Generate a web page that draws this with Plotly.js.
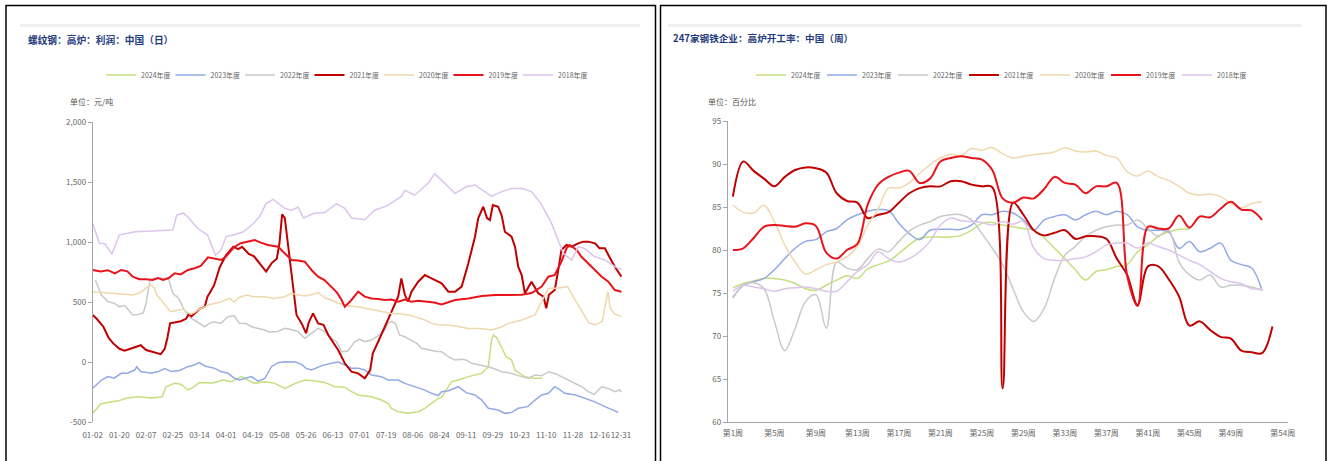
<!DOCTYPE html>
<html><head><meta charset="utf-8">
<script src="https://cdn.plot.ly/plotly-3.0.1.min.js"></script>
<style>html,body{margin:0;padding:0;background:#fff}#c{width:1332px;height:461px}</style>
</head><body><div id="c"></div><script>
// ---------- shared ----------
const seriesNames = ['2024年度','2023年度','2022年度','2021年度','2020年度','2019年度','2018年度'];
const seriesColors = ['#c5df7f','#93a9e6','#c9c9c9','#c00000','#efd8ad','#e8141b','#dcc4ec'];
const seriesWidths = [1.5,1.5,1.5,2,1.5,2,1.5];

// ---------- left chart: rebar BF profit (daily), x = position in tick intervals ----------
const tickPosL = [0,1,2,3,4,5,6,7,8,9,10,11,12,13,14,15,16,17,18,19,19.8];
const tickLabelsL = ['01-02','01-20','02-07','02-25','03-14','04-01','04-19','05-08','05-26','06-13','07-01','07-19','08-06','08-24','09-11','09-29','10-23','11-10','11-28','12-16','12-31'];
const yTickValsL = [-500,0,500,1000,1500,2000];
const yTickTextL = ['-500','0','500','1,000','1,500','2,000'];

const pos2024 = [0,0.3,0.6,1.0,1.3,1.7,2.2,2.6,2.75,3.07,3.3,3.57,3.8,4.0,4.5,4.88,5.2,5.57,6.07,6.45,6.83,7.2,7.6,7.95,8.3,8.7,9.07,9.45,9.7,9.95,10.45,10.82,11.07,11.2,11.45,11.82,12.2,12.45,12.7,12.95,13.08,13.45,13.7,14.08,14.58,14.83,14.95,15.02,15.15,15.3,15.5,15.7,15.83,16.0,16.2,16.5,16.85];
const val2024 = [-428,-350,-335,-320,-300,-289,-300,-290,-206,-178,-185,-233,-205,-170,-175,-150,-165,-122,-178,-164,-178,-220,-178,-150,-156,-170,-206,-210,-247,-275,-289,-317,-345,-386,-414,-428,-414,-386,-345,-303,-295,-164,-150,-122,-95,-39,183,225,200,128,44,17,-67,-95,-122,-136,-136];

const pos2023 = [0,0.14,0.33,0.57,0.8,1.07,1.3,1.57,1.65,1.8,2.2,2.45,2.7,2.95,3.25,3.57,3.8,4.0,4.2,4.57,4.8,5.07,5.32,5.5,5.7,5.95,6.2,6.45,6.7,6.95,7.2,7.6,7.83,8.0,8.2,8.4,8.6,8.95,9.2,9.45,9.7,9.95,10.2,10.45,10.82,11.07,11.45,11.7,12.07,12.45,12.7,12.95,13.08,13.33,13.7,14.0,14.33,14.58,14.83,15.2,15.45,15.7,15.95,16.3,16.58,16.83,17.08,17.32,17.5,17.7,18.1,18.45,18.8,19.2,19.5,19.7];
const val2023 = [-219,-192,-150,-122,-135,-94,-94,-67,-40,-80,-94,-80,-55,-80,-70,-39,-25,-5,-33,-53,-80,-94,-136,-150,-136,-122,-160,-136,-39,-6,2,0,-20,-53,-67,-50,-30,-11,0,-25,-53,-53,-67,-108,-122,-150,-150,-178,-206,-234,-261,-280,-248,-240,-206,-255,-275,-317,-386,-400,-428,-420,-386,-372,-317,-275,-261,-206,-230,-261,-275,-303,-330,-372,-400,-420];

const pos2022 = [0.1,0.2,0.33,0.57,0.8,1.0,1.2,1.4,1.5,1.7,1.9,2.0,2.1,2.15,2.3,2.7,2.85,3.0,3.15,3.25,3.4,3.6,3.8,4.0,4.2,4.35,4.55,4.8,5.07,5.3,5.5,5.75,5.95,6.2,6.45,6.6,6.95,7.2,7.45,7.7,7.95,8.2,8.45,8.7,8.95,9.14,9.33,9.55,9.82,10.0,10.2,10.45,10.7,10.9,11.07,11.2,11.35,11.5,11.7,11.95,12.15,12.32,12.57,12.85,13.08,13.33,13.58,13.85,14.0,14.2,14.5,14.83,15.1,15.33,15.6,15.85,16.08,16.33,16.58,16.83,17.08,17.32,17.58,17.83,18.08,18.33,18.58,18.8,18.95,19.08,19.33,19.57,19.75,19.82];
const val2022 = [683,628,558,503,490,461,470,419,392,395,410,489,600,683,697,697,690,572,545,520,447,380,350,322,294,320,336,322,378,385,322,320,294,280,267,250,255,280,270,253,197,239,280,253,197,169,86,90,169,190,170,183,220,250,322,336,320,225,210,183,155,114,100,90,86,44,17,22,17,-11,-25,-39,-60,-81,-90,-110,-122,-136,-108,-115,-81,-95,-122,-150,-178,-206,-248,-270,-233,-206,-220,-248,-233,-250];

const pos2021 = [0,0.15,0.4,0.6,0.77,1.0,1.2,1.4,1.6,1.8,2.0,2.2,2.4,2.55,2.7,2.8,2.9,3.1,3.3,3.5,3.6,3.7,3.82,4.0,4.2,4.3,4.38,4.55,4.77,5.0,5.27,5.45,5.6,5.85,6.05,6.27,6.5,6.7,6.9,7.0,7.1,7.2,7.35,7.5,7.64,7.83,8.0,8.1,8.26,8.45,8.65,8.83,9.0,9.2,9.45,9.7,9.95,10.2,10.4,10.5,10.7,10.95,11.2,11.45,11.57,11.7,11.82,11.95,12.2,12.45,12.7,12.95,13.08,13.33,13.58,13.83,14.08,14.33,14.45,14.64,14.78,14.89,15.0,15.2,15.33,15.45,15.7,15.83,15.95,16.08,16.2,16.45,16.7,16.9,17.0,17.1,17.32,17.45,17.57,17.76,17.95,18.2,18.38,18.58,18.83,19.0,19.2,19.33,19.57,19.82];
const val2021 = [392,360,294,200,155,110,95,110,130,140,100,85,70,65,110,200,322,330,340,360,400,380,406,440,460,544,572,640,794,892,961,940,960,900,880,822,753,822,860,989,1230,1200,933,628,392,322,239,330,405,322,310,225,169,100,-11,-81,-95,-136,-67,72,169,294,433,544,697,560,503,586,669,725,697,669,655,586,586,628,822,1044,1197,1294,1200,1183,1308,1294,1220,1086,1044,961,794,725,572,669,572,544,447,560,600,766,933,975,961,989,1003,1003,989,947,947,891,794,711];

const pos2020 = [0,0.5,1.0,1.52,1.8,2.15,2.3,2.4,2.77,2.9,3.15,3.4,3.64,3.8,4.0,4.2,4.4,4.8,5.14,5.3,5.5,5.8,6.0,6.45,6.8,7.2,7.45,7.7,7.95,8.2,8.45,8.7,8.95,9.2,9.45,9.7,9.95,10.2,10.57,10.95,11.2,11.6,11.9,12.07,12.45,12.7,12.95,13.2,13.6,14.08,14.5,14.95,15.3,15.58,16.08,16.58,16.9,17.08,17.4,17.8,18.08,18.6,18.85,19.1,19.31,19.4,19.55,19.82];
const val2020 = [586,575,570,558,580,642,620,560,461,419,430,440,400,410,440,460,480,500,530,500,540,558,544,544,530,544,572,558,550,560,578,535,517,490,475,465,461,450,433,420,405,400,390,378,350,322,310,308,300,280,280,267,290,322,350,392,533,614,615,628,517,325,310,340,586,450,400,378];

const pos2019 = [0,0.3,0.57,0.83,1.07,1.3,1.5,1.75,2.0,2.25,2.45,2.64,2.85,3.07,3.3,3.57,3.82,4.05,4.32,4.55,4.82,5.0,5.32,5.55,5.82,6.07,6.3,6.57,6.95,7.2,7.45,7.7,7.95,8.2,8.45,8.7,8.95,9.15,9.33,9.45,9.7,9.95,10.2,10.45,10.7,10.95,11.2,11.45,11.7,11.95,12.2,12.45,12.8,13.08,13.58,14.08,14.58,15.08,15.58,16.08,16.45,16.83,17.08,17.32,17.57,17.76,17.88,18.14,18.32,18.58,18.83,19.08,19.33,19.57,19.82];
const val2019 = [767,755,765,739,767,755,711,690,689,683,700,683,700,739,730,767,781,800,872,860,850,880,961,990,1003,1017,995,975,961,905,850,845,836,767,711,680,628,580,517,461,517,586,545,530,525,517,520,503,520,503,510,503,495,480,517,530,550,558,558,560,575,628,711,725,836,947,975,933,877,822,767,711,669,600,586];

const pos2018 = [0,0.25,0.45,0.72,1.0,1.3,1.6,2.0,2.5,3.0,3.15,3.4,3.6,3.95,4.3,4.6,4.8,5.0,5.3,5.65,6.0,6.25,6.5,6.76,7.2,7.45,7.7,7.9,8.3,8.7,9.14,9.45,9.7,10.2,10.57,11.07,11.57,11.7,12.07,12.57,12.82,13.2,13.58,14.0,14.33,14.95,15.33,15.7,16.1,16.45,16.8,17.2,17.45,17.64,17.95,18.2,18.45,18.8,19.2,19.57,19.82];
const val2018 = [1156,990,985,900,1060,1075,1085,1090,1095,1100,1225,1240,1200,1110,1060,890,930,1045,1060,1085,1150,1210,1320,1355,1280,1265,1290,1200,1240,1245,1320,1280,1200,1185,1265,1305,1380,1430,1390,1490,1570,1490,1405,1460,1475,1380,1420,1445,1445,1420,1320,1155,1015,905,850,960,945,880,850,795,770];

// ---------- right chart: BF utilisation of 247 mills (weekly) ----------
const weeks = [1,2,3,4,5,6,7,8,9,10,11,12,13,14,15,16,17,18,19,20,21,22,23,24,25,26,27,28,29,30,31,32,33,34,35,36,37,38,39,40,41,42,43,44,45,46,47,48,49,50,51,52,53];
const weekTickVals = [1,5,9,13,17,21,25,29,33,37,41,45,49,54];
const weekTickText = ['第1周','第5周','第9周','第13周','第17周','第21周','第25周','第29周','第33周','第37周','第41周','第45周','第49周','第54周'];
const weekBoundaryTicks = [0.5,4.5,8.5,12.5,16.5,20.5,24.5,28.5,32.5,36.5,40.5,44.5,48.5,52.5];

const bf2024 = [75.6,76.1,76.4,76.7,76.7,76.5,76.1,75.5,75.3,75.9,76.5,77.0,76.7,77.8,78.3,78.7,79.6,80.6,81.4,81.5,81.5,81.5,81.7,82.3,83.1,83.2,82.9,82.7,82.5,82.3,81.4,80.2,79.0,77.7,76.5,77.5,77.7,78.1,78.3,79.8,80.6,81.6,82.1,82.4,82.4];
const bf2023 = [74.5,75.9,76.3,76.7,77.7,79.0,80.2,81.0,81.2,82.1,82.5,83.5,84.1,84.5,84.7,84.6,83.1,81.9,81.2,82.3,82.4,82.4,82.4,82.9,84.1,84.1,84.5,84.3,83.5,82.3,83.5,83.9,84.1,83.5,84.1,84.5,84.1,84.5,84.1,82.7,82.3,82.3,82.1,80.2,81.0,79.8,80.2,80.8,78.8,78.3,77.9,75.3];
const bf2022 = [74.4,75.9,76.2,75.5,71.7,68.3,70.9,74.0,74.8,70.9,78.6,77.9,77.7,79.0,80.1,79.8,81.0,82.2,82.9,83.3,83.9,84.1,84.1,83.5,81.9,80.2,78.3,75.5,72.8,71.7,73.2,76.7,79.4,80.4,81.6,82.3,82.7,82.9,82.9,83.5,82.5,81.6,82.3,78.6,77.1,76.5,77.1,75.7,75.9,75.9,75.7,75.3];
const bf2021 = [86.2,90.3,89.2,88.3,87.4,88.5,89.3,89.6,89.5,89.0,86.6,85.7,85.5,83.7,84.1,84.4,85.5,86.6,87.2,87.4,87.4,88.0,88.0,87.6,87.4,87.3,63.9,85.5,84.1,82.3,81.7,82.0,82.3,81.3,81.6,81.6,81.3,79.0,77.1,73.6,78.1,78.1,76.6,74.6,71.2,71.7,70.7,69.9,69.7,68.3,68.1,68.0,71.1];
const bf2020 = [85.2,84.4,84.3,85.2,83.3,80.6,78.6,77.2,77.7,78.3,78.6,79.2,80.4,82.9,84.8,87.2,87.2,87.8,88.9,89.9,90.7,91.1,91.0,91.8,91.6,91.9,91.2,90.7,90.9,91.1,91.2,91.4,91.9,91.5,91.4,91.5,91.0,90.7,89.1,88.6,89.2,88.5,88.1,87.4,86.6,86.4,86.5,86.2,85.4,84.9,85.4,85.6];
const bf2019 = [80.0,80.2,81.4,82.7,82.9,82.8,82.7,83.1,82.8,79.7,79.0,80.0,80.7,85.3,87.6,88.5,89.0,89.2,87.8,88.3,90.3,90.7,90.9,90.7,90.5,89.3,86.0,85.5,86.1,86.0,87.1,88.5,87.8,87.6,86.6,87.4,87.4,87.8,77.0,73.5,82.7,82.5,82.5,84.0,82.6,83.9,83.8,84.8,85.6,84.7,84.6,83.5];
const bf2018 = [75.2,75.9,75.7,75.5,75.2,75.5,75.6,75.7,75.5,75.2,75.2,76.3,77.5,78.3,79.8,79.0,78.6,79.0,79.8,81.0,82.9,83.7,83.4,83.3,83.2,82.9,83.3,83.0,83.3,80.2,79.0,78.8,78.8,79.0,79.2,79.8,80.6,80.8,80.8,80.2,80.8,80.4,80.0,79.4,78.8,78.3,77.5,76.7,76.3,76.1,75.5,75.5];

const leftPos = [pos2024,pos2023,pos2022,pos2021,pos2020,pos2019,pos2018];
const leftVal = [val2024,val2023,val2022,val2021,val2020,val2019,val2018];
const rightVal = [bf2024,bf2023,bf2022,bf2021,bf2020,bf2019,bf2018];

const traces = [];
for (let i = 0; i < seriesNames.length; i++) {
  traces.push({type:'scatter', mode:'lines', name:seriesNames[i], x:leftPos[i], y:leftVal[i],
    xaxis:'x', yaxis:'y', legend:'legend',
    line:{color:seriesColors[i], width:seriesWidths[i], shape:'linear'}, hoverinfo:'skip'});
}
// invisible spacer entry so the last legend label is not clipped
traces.push({type:'scatter', mode:'lines', name:' ', x:[null], y:[null], xaxis:'x', yaxis:'y', legend:'legend',
  line:{color:'rgba(0,0,0,0)', width:0}, hoverinfo:'skip'});
for (let i = 0; i < seriesNames.length; i++) {
  traces.push({type:'scatter', mode:'lines', name:seriesNames[i], x:weeks.slice(0, rightVal[i].length), y:rightVal[i],
    xaxis:'x2', yaxis:'y2', legend:'legend2',
    line:{color:seriesColors[i], width:seriesWidths[i], shape:'spline', smoothing:1}, hoverinfo:'skip'});
}
traces.push({type:'scatter', mode:'lines', name:' ', x:[null], y:[null], xaxis:'x2', yaxis:'y2', legend:'legend2',
  line:{color:'rgba(0,0,0,0)', width:0}, hoverinfo:'skip'});

const W = 1332, H = 461;
const px = v => v / W, py = v => 1 - v / H;
const FONT = '"Noto Sans CJK SC", "Noto Sans", sans-serif';
const tickFont = {family: FONT, size: 8, color: '#666'};
const axisGray = '#a6a6a6';

const domXL = [px(92.7), px(622)], domYL = [py(422), py(122)];
const domXR = [px(727.7), px(1288)], domYR = [py(422), py(121)];
const rangeXL = [0, 19.84], rangeYL = [-500, 2000];
const rangeXR = [0.5, 54.5], rangeYR = [60, 95];
const zeroPos = domYL[0] + (0 - rangeYL[0]) / (rangeYL[1] - rangeYL[0]) * (domYL[1] - domYL[0]);

const layout = {
  width: W, height: H, autosize: false,
  margin: {l:0, r:0, t:0, b:0, autoexpand: false},
  paper_bgcolor: '#fff', plot_bgcolor: 'rgba(0,0,0,0)',
  font: {family: FONT, color: '#555'},
  showlegend: true,
  xaxis: {domain: domXL, range: rangeXL, anchor: 'y', tickmode: 'array', tickvals: tickPosL, ticktext: tickLabelsL,
    tickangle: 0, showline: false, ticks: 'outside', ticklen: 5, tickcolor: 'rgba(0,0,0,0)', tickfont: tickFont,
    showgrid: false, zeroline: false, automargin: false},
  xaxis3: {overlaying: 'x', domain: domXL, range: rangeXL, anchor: 'free', position: zeroPos,
    tickmode: 'array', tickvals: tickPosL, showticklabels: false, ticks: 'outside', ticklen: 4, tickcolor: axisGray,
    showline: true, linecolor: axisGray, linewidth: 1, showgrid: false, zeroline: false},
  yaxis: {domain: domYL, range: rangeYL, anchor: 'x', tickmode: 'array', tickvals: yTickValsL, ticktext: yTickTextL,
    showline: true, linecolor: axisGray, ticks: 'outside', ticklen: 4, tickcolor: axisGray, tickfont: tickFont,
    showgrid: false, zeroline: false, automargin: false},
  yaxis3: {overlaying: 'y', side: 'right', anchor: 'x', range: rangeYL, showline: true, linecolor: '#d6d6d6', linewidth: 2,
    showticklabels: false, ticks: '', showgrid: false, zeroline: false},
  xaxis2: {domain: domXR, range: rangeXR, anchor: 'y2', tickmode: 'array', tickvals: weekTickVals, ticktext: weekTickText,
    tickangle: 0, showline: true, linecolor: axisGray, ticks: 'outside', ticklen: 3, tickcolor: 'rgba(0,0,0,0)', tickfont: tickFont,
    showgrid: false, zeroline: false, automargin: false},
  xaxis4: {overlaying: 'x2', domain: domXR, range: rangeXR, anchor: 'y2', tickmode: 'array', tickvals: weekBoundaryTicks,
    showticklabels: false, ticks: 'outside', ticklen: 4, tickcolor: axisGray, showline: false, showgrid: false, zeroline: false},
  yaxis2: {domain: domYR, range: rangeYR, anchor: 'x2', tickmode: 'linear', tick0: 60, dtick: 5,
    showline: true, linecolor: axisGray, ticks: 'outside', ticklen: 4, tickcolor: axisGray, tickfont: tickFont,
    showgrid: false, zeroline: false, automargin: false},
  yaxis4: {overlaying: 'y2', side: 'right', anchor: 'x2', range: rangeYR, showline: true, linecolor: '#d6d6d6', linewidth: 2,
    showticklabels: false, ticks: '', showgrid: false, zeroline: false},
  legend: {orientation: 'h', x: px(101), xanchor: 'left', y: py(75), yanchor: 'middle',
    font: {family: FONT, size: 7, color: '#666'}, entrywidth: 24.5, entrywidthmode: 'pixels',
    bgcolor: 'rgba(0,0,0,0)', itemclick: false},
  legend2: {orientation: 'h', x: px(751), xanchor: 'left', y: py(75), yanchor: 'middle',
    font: {family: FONT, size: 7, color: '#666'}, entrywidth: 26, entrywidthmode: 'pixels',
    bgcolor: 'rgba(0,0,0,0)', itemclick: false},
  annotations: [
    {xref:'paper', yref:'paper', x: px(26), y: py(40), xanchor:'left', yanchor:'middle', showarrow:false,
     text:'<b>螺纹钢：高炉：利润：中国（日）</b>', font:{family: FONT, size: 9.7, color:'#1f3b80'}},
    {xref:'paper', yref:'paper', x: px(671), y: py(38), xanchor:'left', yanchor:'middle', showarrow:false,
     text:'<b>247家钢铁企业：高炉开工率：中国（周）</b>', font:{family: FONT, size: 9.6, color:'#1f3b80'}},
    {xref:'paper', yref:'paper', x: px(68), y: py(101), xanchor:'left', yanchor:'middle', showarrow:false,
     text:'单位：元/吨', font:{family: FONT, size: 8, color:'#555'}},
    {xref:'paper', yref:'paper', x: px(706), y: py(101), xanchor:'left', yanchor:'middle', showarrow:false,
     text:'单位：百分比', font:{family: FONT, size: 8, color:'#555'}}
  ],
  shapes: [
    {type:'rect', xref:'paper', yref:'paper', x0: px(20), x1: px(640), y0: py(27), y1: py(24), fillcolor:'#efefef', line:{width:0}, layer:'below'},
    {type:'rect', xref:'paper', yref:'paper', x0: px(668), x1: px(1302), y0: py(27), y1: py(24), fillcolor:'#efefef', line:{width:0}, layer:'below'},
    {type:'rect', xref:'paper', yref:'paper', x0: px(6), x1: px(655.5), y0: py(475), y1: py(5.5), line:{color:'#000', width:1.5}, fillcolor:'rgba(0,0,0,0)'},
    {type:'rect', xref:'paper', yref:'paper', x0: px(660.5), x1: px(1326), y0: py(475), y1: py(5.5), line:{color:'#000', width:1.5}, fillcolor:'rgba(0,0,0,0)'}
  ]
};

Plotly.newPlot('c', traces, layout, {staticPlot: true, displayModeBar: false});
</script></body></html>
